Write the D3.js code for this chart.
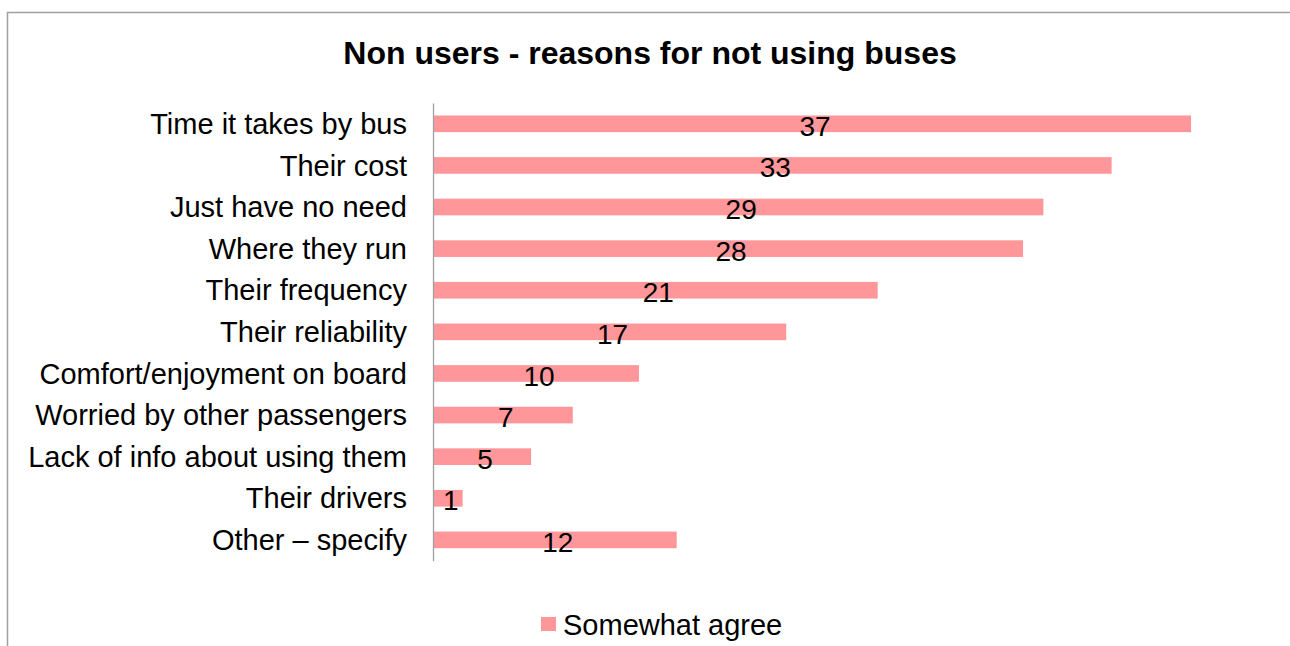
<!DOCTYPE html>
<html>
<head>
<meta charset="utf-8">
<script src="https://cdn.jsdelivr.net/npm/d3@7"></script>
<style>
  body { margin: 0; background: #fff; }
  text { font-family: "Liberation Sans", Arial, sans-serif; fill: #000; }
</style>
</head>
<body>
<div id="chart"></div>
<script>
// chart data
var categories = ["Time it takes by bus", "Their cost", "Just have no need", "Where they run",
    "Their frequency", "Their reliability", "Comfort/enjoyment on board",
    "Worried by other passengers", "Lack of info about using them", "Their drivers", "Other \u2013 specify"];
var somewhatAgree = [36.55, 32.72, 29.43, 28.45, 21.44, 17.03, 9.93, 6.74, 4.73, 1.43, 11.75];
var seriesName = "Somewhat agree";
var chartTitle = "Non users - reasons for not using buses";

var data = categories.map(function (c, i) { return { cat: c, value: somewhatAgree[i] }; });

var width = 1290, height = 646;
var margin = { top: 103, left: 433, right: 27.4, bottom: 85.3 };

var svg = d3.select("#chart")
    .append("svg")
    .attr("width", width)
    .attr("height", height);

// outer frame
svg.append("rect")
    .attr("x", 7.5)
    .attr("y", 12.5)
    .attr("width", width + 20)
    .attr("height", height + 20)
    .attr("fill", "none")
    .attr("stroke", "#a0a0a0")
    .attr("stroke-width", 1.5);

// title
svg.append("text")
    .attr("x", 650)
    .attr("y", 64)
    .attr("text-anchor", "middle")
    .style("font-size", "32px")
    .style("font-weight", "bold")
    .text(chartTitle);

// scales
var xScale = d3.scaleLinear()
    .domain([0, 40])
    .range([margin.left, width - margin.right]);

var yScale = d3.scaleBand()
    .domain(categories)
    .range([margin.top, height - margin.bottom])
    .paddingInner(0.6)
    .paddingOuter(0.3);

// bars
svg.selectAll(".bar")
    .data(data)
    .enter().append("rect")
    .attr("class", "bar")
    .attr("x", xScale(0))
    .attr("y", function (d) { return yScale(d.cat); })
    .attr("width", function (d) { return xScale(d.value) - xScale(0); })
    .attr("height", yScale.bandwidth())
    .attr("fill", "#ff979a");

// y axis (line only, no ticks)
var yAxis = svg.append("g")
    .attr("transform", "translate(" + margin.left + ",0)")
    .call(d3.axisLeft(yScale).tickSize(0).tickPadding(26));

yAxis.select(".domain")
    .attr("stroke", "#a0a0a0")
    .attr("stroke-width", 1.3);

yAxis.selectAll(".tick text")
    .style("font-size", "29px")
    .style("font-family", "'Liberation Sans', Arial, sans-serif")
    .attr("dy", "0.35em");

// data labels
svg.selectAll(".label")
    .data(data)
    .enter().append("text")
    .attr("class", "label")
    .attr("x", function (d) { return (xScale(0) + xScale(d.value)) / 2 + 3; })
    .attr("y", function (d) { return yScale(d.cat) + yScale.bandwidth() / 2 + 2; })
    .attr("dy", "0.36em")
    .attr("text-anchor", "middle")
    .style("font-size", "28px")
    .text(function (d) { return d3.format(".0f")(d.value); });

// legend
var legend = svg.append("g")
    .attr("transform", "translate(541,617)");

legend.append("rect")
    .attr("width", 15)
    .attr("height", 14)
    .attr("fill", "#ff979a");

legend.append("text")
    .attr("x", 22)
    .attr("y", 17.5)
    .style("font-size", "29px")
    .text(seriesName);
</script>
</body>
</html>
